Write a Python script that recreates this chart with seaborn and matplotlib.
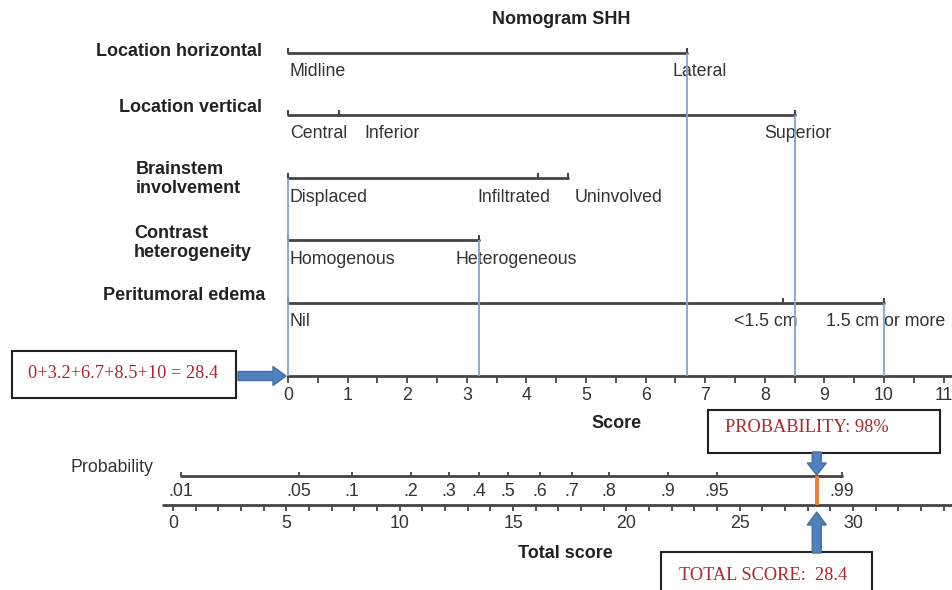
import numpy as np
import pandas as pd
import matplotlib
matplotlib.use("Agg")
import matplotlib.pyplot as plt
import seaborn as sns
from matplotlib.patches import Rectangle, FancyArrow

# --- data ---
variables = ["Location horizontal", "Location vertical", "Brainstem\ninvolvement",
             "Contrast\nheterogeneity", "Peritumoral edema"]
loc_h_levels = ["Midline", "Lateral"]
loc_h_points = [0, 6.7]
loc_v_levels = ["Central", "Inferior", "Superior"]
loc_v_points = [0, 0.85, 8.5]
brain_levels = ["Displaced", "Infiltrated", "Uninvolved"]
brain_points = [0, 4.2, 4.7]
contrast_levels = ["Homogenous", "Heterogeneous"]
contrast_points = [0, 3.2]
edema_levels = ["Nil", "<1.5 cm", "1.5 cm or more"]
edema_points = [0, 8.3, 10]

# chosen case: displaced, heterogeneous, lateral, superior, >=1.5 cm
case_points = [0, 3.2, 6.7, 8.5, 10]
case_rows = [2, 3, 0, 1, 4]
total_score = 28.4
probability = 98

score_ticks = list(range(0, 12))
total_ticks = [0, 5, 10, 15, 20, 25, 30]
prob_labels = [".01", ".05", ".1", ".2", ".3", ".4", ".5", ".6", ".7", ".8", ".9", ".95", ".99"]
prob_total = [0.35, 5.56, 7.90, 10.50, 12.18, 13.50, 14.78, 16.19, 17.60, 19.24, 21.84, 24.00, 29.51]

# --- layout (pixels / score units for text placement) ---
row_y = [53, 115, 178, 240, 303]
level_label_x = [[0.03, 6.90], [0.03, 1.74, 8.55], [0.03, 3.79, 5.55],
                 [0.03, 3.83], [0.03, 8.02, 10.02]]
score_y = 376
prob_y = 476
total_y = 505

LINE = "#444444"
TXT = "#333333"
GUIDE = "#7ea6d3"
RED = "#b0262c"
ARROW = "#4f81bd"

sns.set_theme(style="white")
plt.rcParams["font.family"] = ["Liberation Sans", "DejaVu Sans"]
serif = ["Liberation Serif", "DejaVu Serif"]

fig = plt.figure(figsize=(9.52, 5.9), dpi=100)
ax_s = fig.add_axes([0, 0, 1, 1])
ax_t = fig.add_axes([0, 0, 1, 1])
ax_p = fig.add_axes([0, 0, 1, 1])

levels = [loc_h_levels, loc_v_levels, brain_levels, contrast_levels, edema_levels]
points = [loc_h_points, loc_v_points, brain_points, contrast_points, edema_points]

rows = []
for name, pts, y in zip(variables, points, row_y):
    rows.append({"variable": name, "points": min(pts), "y": y})
    rows.append({"variable": name, "points": max(pts), "y": y})
df = pd.DataFrame(rows)

sns.lineplot(data=df, x="points", y="y", units="variable", estimator=None,
             color=LINE, lw=2, sort=False, legend=False, ax=ax_s)

for name, lv, pts, y, lx in zip(variables, levels, points, row_y, level_label_x):
    ax_s.vlines(pts, y - 5, y, color=LINE, lw=1.5)
    for i, (lab, x) in enumerate(zip(lv, lx)):
        ax_s.text(x, y + 19, lab, ha="left" if i == 0 else "center", va="center",
                  fontsize=12.8, color=TXT)

# variable names
ax_p.text(262, 52, variables[0], ha="right", va="center", fontsize=13, weight="bold", color="#222")
ax_p.text(262, 107, variables[1], ha="right", va="center", fontsize=13, weight="bold", color="#222")
ax_p.text(136, 179, variables[2], ha="left", va="center", fontsize=13, weight="bold",
          color="#222", linespacing=1.15)
ax_p.text(134, 243, variables[3], ha="left", va="center", fontsize=13, weight="bold",
          color="#222", linespacing=1.15)
ax_p.text(265, 296, variables[4], ha="right", va="center", fontsize=13, weight="bold", color="#222")

ax_s.text(4.58, 19, "Nomogram SHH", ha="center", va="center", fontsize=13, weight="bold", color="#222")

# guide lines from the chosen levels down to the score axis
for p, r in zip(case_points, case_rows):
    ax_s.vlines(p, row_y[r], score_y, color=GUIDE, lw=1.3, zorder=3)

# score axis
ax_s.plot([0, 11.3], [score_y, score_y], color=LINE, lw=2)
ax_s.vlines(np.arange(0, 11.5, 0.5), score_y, score_y + 7, color=LINE, lw=1.3)
for t in score_ticks:
    ax_s.text(t, score_y + 20, str(t), ha="center", va="center", fontsize=12.8, color=TXT)
ax_s.text(5.52, 423, "Score", ha="center", va="center", fontsize=13, weight="bold", color="#222")

# probability axis
ax_p.text(70, 467, "Probability", ha="left", va="center", fontsize=12.8, color=TXT)
ax_t.plot([prob_total[0], prob_total[-1]], [prob_y, prob_y], color=LINE, lw=2)
ax_t.vlines(prob_total, prob_y - 4, prob_y, color=LINE, lw=1.3)
for lab, x in zip(prob_labels, prob_total):
    ax_t.text(x, prob_y + 15, lab, ha="center", va="center", fontsize=12.8, color=TXT)

# total score axis
ax_t.plot([-0.45, 34.5], [total_y, total_y], color=LINE, lw=2)
ax_t.vlines(np.arange(0, 35, 1), total_y, total_y + 6, color=LINE, lw=1.3)
for t in total_ticks:
    ax_t.text(t, total_y + 19, str(t), ha="center", va="center", fontsize=12.8, color=TXT)
ax_t.text(17.3, 553, "Total score", ha="center", va="center", fontsize=13, weight="bold", color="#222")

# marker at the case total score
ax_t.vlines(total_score, prob_y, total_y, color="#ed7d31", lw=2.8, zorder=4)

for ax in (ax_s, ax_t, ax_p):
    ax.set_ylim(590, 0)
    ax.axis("off")
    ax.patch.set_alpha(0)
ax_s.set_xlim(-288 / 59.6, (952 - 288) / 59.6)
ax_t.set_xlim(-173 / 22.667, (952 - 173) / 22.667)
ax_p.set_xlim(0, 952)

# pixel x of the total score, for the annotation arrows
x_case = ax_p.transData.inverted().transform(ax_t.transData.transform((total_score, 0)))[0]

# annotation boxes
box_kw = dict(fill=True, facecolor="white", edgecolor="#222222", lw=1.5, zorder=5)
ax_p.add_patch(Rectangle((12, 351), 224, 47, **box_kw))
ax_p.add_patch(Rectangle((708, 410), 232, 43, **box_kw))
ax_p.add_patch(Rectangle((661, 552), 211, 45, **box_kw))

formula = "+".join(f"{p:g}" for p in case_points) + f" = {total_score:g}"
ax_p.text(123, 373, formula, ha="center", va="center", fontsize=13.2, color=RED,
          family=serif, zorder=6)
ax_p.text(725, 428, f"PROBABILITY: {probability}%", ha="left", va="center", fontsize=13.2,
          color=RED, family=serif, zorder=6)
ax_p.text(679, 575, f"TOTAL SCORE:  {total_score:g}", ha="left", va="center", fontsize=13.2,
          color=RED, family=serif, zorder=6)

arrow_kw = dict(length_includes_head=True, facecolor=ARROW, edgecolor="#41719c", lw=1, zorder=6)
ax_p.add_patch(FancyArrow(238, score_y, 48, 0, width=9, head_width=19, head_length=13, **arrow_kw))
ax_p.add_patch(FancyArrow(x_case, 452, 0, 23, width=9, head_width=19, head_length=12, **arrow_kw))
ax_p.add_patch(FancyArrow(x_case, 553, 0, -41, width=9, head_width=19, head_length=13, **arrow_kw))

fig.savefig("out.png", dpi=100)
